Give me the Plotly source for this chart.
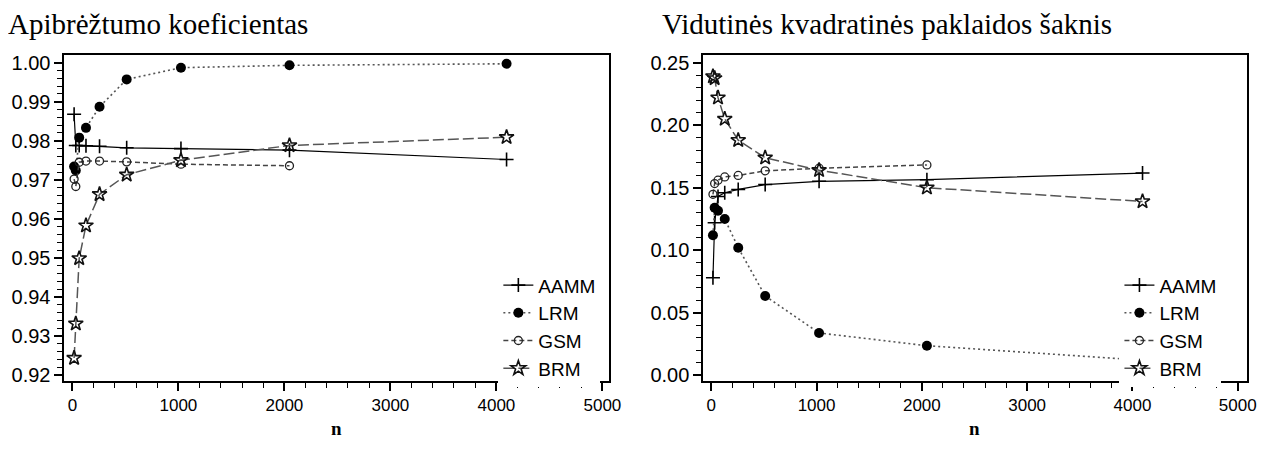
import plotly.graph_objects as go

# ---------------- data ----------------
n = [16, 32, 64, 128, 256, 512, 1024, 2048, 4096]

r2_aamm = [0.9868, 0.9788, 0.9788, 0.9787, 0.9786, 0.9782, 0.9780, 0.9776, 0.9752]
r2_lrm = [0.9734, 0.9724, 0.9808, 0.9833, 0.9887, 0.9957, 0.9987, 0.9993, 0.9997]
r2_gsm = [0.9702, 0.9683, 0.9745, 0.9748, 0.9748, 0.9746, 0.9740, 0.9736, None]
r2_brm = [0.9244, 0.9332, 0.9499, 0.9583, 0.9663, 0.9713, 0.9750, 0.9788, 0.9809]

rmse_aamm = [0.078, 0.122, 0.143, 0.146, 0.1486, 0.1525, 0.1551, 0.1564, 0.1617]
rmse_lrm = [0.112, 0.134, 0.1315, 0.125, 0.102, 0.0634, 0.0338, 0.0236, 0.012]
rmse_gsm = [0.1447, 0.1533, 0.156, 0.1586, 0.1598, 0.1635, 0.1656, 0.1682, None]
rmse_brm = [0.239, 0.2375, 0.222, 0.205, 0.188, 0.174, 0.164, 0.150, 0.139]

series_names = ["AAMM", "LRM", "GSM", "BRM"]
titles = ["Apibrėžtumo koeficientas", "Vidutinės kvadratinės paklaidos šaknis"]
x_label = "n"

# ---------------- styles ----------------
# page body has an 8px default margin: size the figure to fit inside it
OFF = 8
W, H = 1287 - 2 * OFF, 453 - 2 * OFF

styles = {
    "AAMM": dict(line=dict(color="black", width=1.2, dash="solid"),
                 marker=dict(symbol="cross-thin-open", size=10, color="black",
                             line=dict(color="black", width=1.6))),
    "LRM": dict(line=dict(color="#555555", width=1.6, dash="2px,3px"),
                marker=dict(symbol="circle", size=10, color="black",
                            line=dict(color="black", width=0))),
    "GSM": dict(line=dict(color="#444444", width=1.5, dash="5px,3px"),
                marker=dict(symbol="circle-open", size=8, color="#222222",
                            line=dict(color="#222222", width=1.3))),
    "BRM": dict(line=dict(color="#555555", width=1.5, dash="11px,4px"),
                marker=dict(symbol="star-open", size=11, color="#111111",
                            line=dict(color="#111111", width=1.6))),
}

fig = go.Figure()

panels = [
    ("x", "y", "legend", [r2_aamm, r2_lrm, r2_gsm, r2_brm]),
    ("x2", "y2", "legend2", [rmse_aamm, rmse_lrm, rmse_gsm, rmse_brm]),
]
for xa, ya, lg, vals in panels:
    for name, v in zip(series_names, vals):
        fig.add_trace(go.Scatter(
            x=n, y=v, name=name, mode="lines+markers",
            xaxis=xa, yaxis=ya, legend=lg, connectgaps=False,
            **styles[name]))


def px_x(p):
    return (p - OFF) / W


def px_y(p):
    return 1 - (p - OFF) / H


axis_common = dict(
    showline=True, linecolor="black", linewidth=2, mirror=True,
    ticks="outside", ticklen=8, tickwidth=1.5, tickcolor="black",
    showgrid=False, zeroline=False,
)

xdom1 = [px_x(65), px_x(615)]
xdom2 = [px_x(710), px_x(1259)]
ydom = [px_y(385), px_y(53)]

xaxis_common = dict(axis_common,
                    tickvals=[0, 1000, 2000, 3000, 4000, 5000],
                    ticktext=["0", "1000", "2000", "3000", "4000", "5000"],
                    tickfont=dict(family="Liberation Sans", size=17, color="black"),
                    minor=dict(dtick=200, tick0=0, ticklen=5, tickwidth=1.2,
                               tickcolor="black", ticks="outside"))

legend_font = dict(family="Liberation Sans", size=19, color="black")

fig.update_layout(
    width=W, height=H,
    margin=dict(l=0, r=0, t=0, b=0, pad=0),
    paper_bgcolor="white", plot_bgcolor="white",
    xaxis=dict(xaxis_common, domain=xdom1, range=[-75, 5065], anchor="y"),
    xaxis2=dict(xaxis_common, domain=xdom2, range=[-75, 5090], anchor="y2"),
    yaxis=dict(axis_common, domain=ydom, range=[0.9185, 1.0019], anchor="x",
               tickvals=[0.92, 0.93, 0.94, 0.95, 0.96, 0.97, 0.98, 0.99, 1.00],
               ticktext=["0.92", "0.93", "0.94", "0.95", "0.96", "0.97", "0.98", "0.99", "1.00"],
               tickfont=dict(family="Liberation Sans", size=20, color="black"),
               minor=dict(dtick=0.002, tick0=0.92, ticklen=5, tickwidth=1.2,
                          tickcolor="black", ticks="outside")),
    yaxis2=dict(axis_common, domain=ydom, range=[-0.0047, 0.256], anchor="x2",
                tickvals=[0.00, 0.05, 0.10, 0.15, 0.20, 0.25],
                ticktext=["0.00", "0.05", "0.10", "0.15", "0.20", "0.25"],
                tickfont=dict(family="Liberation Sans", size=20, color="black"),
                minor=dict(dtick=0.01, tick0=0, ticklen=5, tickwidth=1.2,
                           tickcolor="black", ticks="outside")),
    legend=dict(x=px_x(606), xanchor="right", y=px_y(268), yanchor="top",
                bgcolor="white", borderwidth=0, font=legend_font,
                itemsizing="trace"),
    legend2=dict(x=px_x(1233), xanchor="right", y=px_y(268), yanchor="top",
                 bgcolor="white", borderwidth=0, font=legend_font,
                 itemsizing="trace"),
    showlegend=True,
)

annotations = [
    dict(text=titles[0], x=px_x(6), y=px_y(3), xanchor="left", yanchor="top"),
    dict(text=titles[1], x=px_x(666), y=px_y(3), xanchor="left", yanchor="top"),
]
for a in annotations:
    a.update(xref="paper", yref="paper", showarrow=False,
             font=dict(family="Liberation Serif", size=29, color="black"))
for cx in [340, 984]:
    annotations.append(dict(text="<b>" + x_label + "</b>", x=px_x(cx), y=px_y(445),
                            xref="paper", yref="paper", xanchor="center", yanchor="bottom",
                            height=22, valign="middle", borderpad=0, showarrow=False,
                            font=dict(family="Liberation Serif", size=19, color="black")))
fig.update_layout(annotations=annotations)

fig.write_html("out.html")
